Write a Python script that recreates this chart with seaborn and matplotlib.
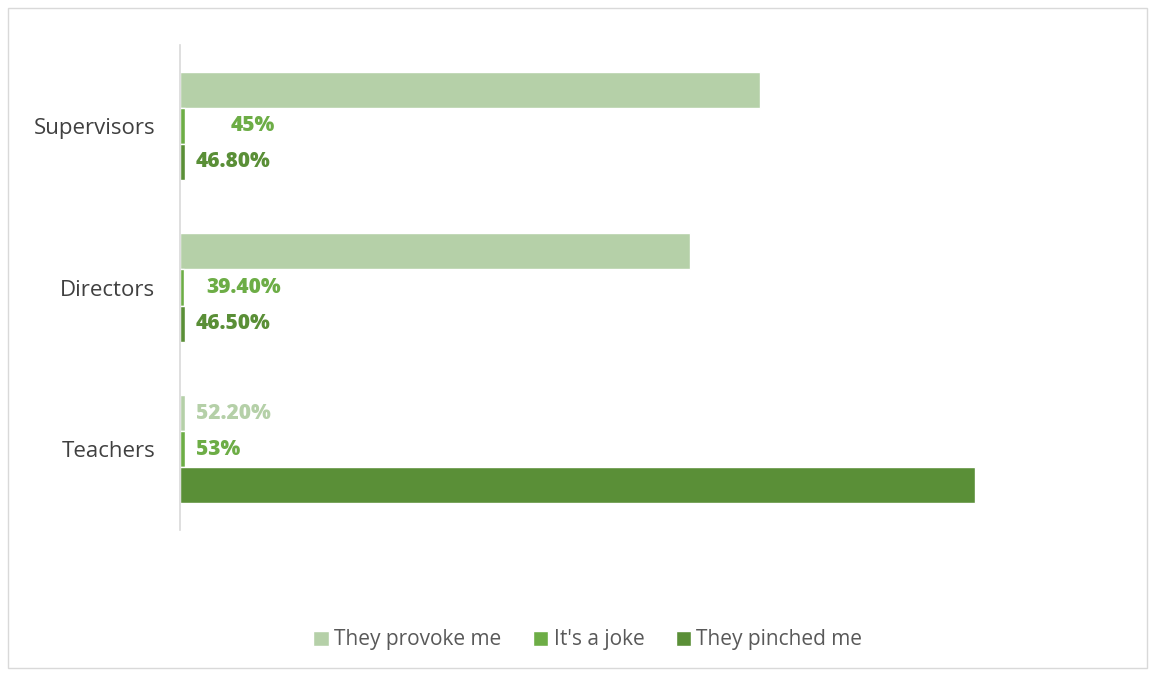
import matplotlib
matplotlib.use("Agg")
import matplotlib.pyplot as plt
import seaborn as sns
import pandas as pd
from matplotlib.patches import Rectangle

categories = ["Supervisors", "Directors", "Teachers"]
series = ["They provoke me", "It's a joke", "They pinched me"]
provoke = [58.0, 51.0, 0.522]
joke = [0.45, 0.394, 0.53]
pinched = [0.468, 0.465, 79.5]
provoke_labels = ["", "", "52.20%"]
joke_labels = ["45%", "39.40%", "53%"]
pinched_labels = ["46.80%", "46.50%", ""]

colors = ["#B5D0A8", "#6DAD46", "#5A8F37"]
label_pad = {"They provoke me": [8, 8, 8],
             "It's a joke": [33, 16, 8],
             "They pinched me": [8, 8, 8]}

rows = []
for s, vals in zip(series, [provoke, joke, pinched]):
    for c, v in zip(categories, vals):
        rows.append({"category": c, "series": s, "value": v})
df = pd.DataFrame(rows)

sns.set_theme(style="white")
plt.rcParams["font.family"] = ["Open Sans", "DejaVu Sans"]

fig = plt.figure(figsize=(11.55, 6.75), dpi=100)
ax = fig.add_axes([180 / 1155, 1 - 530 / 675, 930 / 1155, 485 / 675])

sns.barplot(data=df, y="category", x="value", hue="series", order=categories,
            hue_order=series, palette=colors, orient="h", width=0.67, gap=0,
            saturation=1, ax=ax, legend=True)

ax.set_xlim(0, 93)
ax.set_ylim(2.5, -0.5)
ax.set_xlabel("")
ax.set_ylabel("")
ax.xaxis.set_visible(False)
for sp in ["top", "right", "bottom"]:
    ax.spines[sp].set_visible(False)
ax.spines["left"].set_color("#D9D9D9")
ax.spines["left"].set_linewidth(1.2)
ax.tick_params(axis="y", length=0, pad=18, labelsize=16, labelcolor="#404040")

all_labels = [provoke_labels, joke_labels, pinched_labels]
for cont, labs, col, s in zip(ax.containers, all_labels, colors, series):
    for patch, lab, pad in zip(cont.patches, labs, label_pad[s]):
        if not lab:
            continue
        x = patch.get_x() + patch.get_width()
        y = patch.get_y() + patch.get_height() / 2
        ax.annotate(lab, (x, y), xytext=(pad, 0), textcoords="offset points",
                    ha="left", va="center", fontsize=15, fontweight="heavy", color=col)

leg = ax.legend(loc="center", bbox_to_anchor=(588 / 1155, 1 - 640 / 675),
                bbox_transform=fig.transFigure, ncol=3, frameon=False,
                fontsize=15, handlelength=0.75, handleheight=0.75,
                handletextpad=0.25, columnspacing=1.5)
for t in leg.get_texts():
    t.set_color("#595959")

fig.patches.append(Rectangle((8 / 1155, 7 / 675), 1139 / 1155, 660 / 675,
                             transform=fig.transFigure, fill=False,
                             edgecolor="#D9D9D9", linewidth=1))

fig.savefig("out.png", dpi=100)
